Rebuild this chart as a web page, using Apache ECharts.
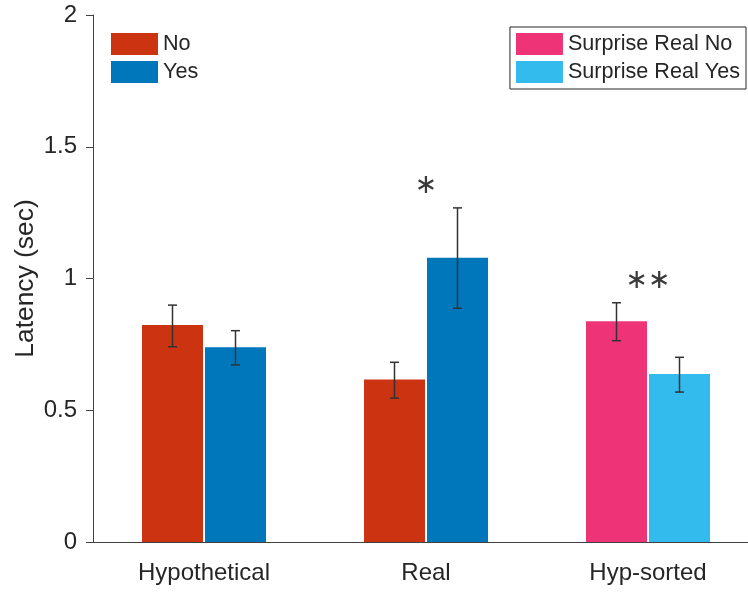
<!DOCTYPE html>
<html>
<head>
<meta charset="utf-8">
<script src="https://cdn.jsdelivr.net/npm/echarts@6/dist/echarts.min.js"></script>
<style>html,body{margin:0;padding:0;background:#fff}#c{width:748px;height:592px}</style>
</head>
<body>
<div id="c"></div>
<script>
var categories = ['Hypothetical', 'Real', 'Hyp-sorted'];
var yTicks = [0, 0.5, 1, 1.5, 2];
var noVals = [0.824, 0.617, null];
var yesVals = [0.739, 1.079, null];
var surpNoVals = [null, null, 0.838];
var surpYesVals = [null, null, 0.638];
var noErrLow = [0.741, 0.546, null];
var noErrHigh = [0.899, 0.682, null];
var yesErrLow = [0.672, 0.887, null];
var yesErrHigh = [0.802, 1.268, null];
var surpNoErrLow = [null, null, 0.764];
var surpNoErrHigh = [null, null, 0.908];
var surpYesErrLow = [null, null, 0.569];
var surpYesErrHigh = [null, null, 0.701];
var sigLabels = ['', '*', '**'];
var sigY = [null, 1.35, 0.99];

var TXT = '#262626';
var FONT = 'Liberation Sans';
var BAR_W = 61, BAR_GAP = 2;
var colors = { no: '#CC3311', yes: '#0077BB', surpNo: '#EE3377', surpYes: '#33BBEE' };

function errData(low, high, side) {
  var out = [];
  for (var i = 0; i < low.length; i++) {
    if (low[i] != null) out.push([i, low[i], high[i], side]);
  }
  return out;
}
var errItems = [].concat(
  errData(noErrLow, noErrHigh, -1),
  errData(yesErrLow, yesErrHigh, 1),
  errData(surpNoErrLow, surpNoErrHigh, -1),
  errData(surpYesErrLow, surpYesErrHigh, 1)
);
var sigItems = [];
for (var i = 0; i < sigLabels.length; i++) {
  if (sigLabels[i]) sigItems.push([i, sigY[i], sigLabels[i]]);
}

var chart = echarts.init(document.getElementById('c'), null, { renderer: 'canvas' });
chart.setOption({
  animation: false,
  textStyle: { fontFamily: FONT, color: TXT },
  grid: { left: 93, width: 666, top: 15, bottom: 50, containLabel: false, outerBoundsMode: 'none' },
  legend: [
    {
      data: ['No', 'Yes'],
      orient: 'vertical', left: 111, top: 33, padding: 0,
      icon: 'rect',
      itemWidth: 47, itemHeight: 22, itemGap: 6, itemStyle: { borderWidth: 0 },
      textStyle: { fontFamily: FONT, fontSize: 21.6, color: TXT },
      selectedMode: false
    },
    {
      data: ['Surprise Real No', 'Surprise Real Yes'],
      orient: 'vertical', right: 2, top: 27, padding: [6, 6, 6, 6],
      icon: 'rect',
      borderColor: TXT, borderWidth: 1, backgroundColor: '#fff', borderRadius: 0,
      itemWidth: 47, itemHeight: 22, itemGap: 6, itemStyle: { borderWidth: 0 },
      textStyle: { fontFamily: FONT, fontSize: 21.6, color: TXT },
      selectedMode: false
    }
  ],
  xAxis: {
    type: 'category',
    data: categories,
    axisLine: { lineStyle: { color: '#404040', width: 1 } },
    axisTick: { alignWithLabel: true, length: 7, lineStyle: { color: '#404040' } },
    axisLabel: { fontFamily: FONT, fontSize: 24, color: TXT, margin: 19 },
    splitLine: { show: false }
  },
  yAxis: {
    type: 'value',
    min: yTicks[0], max: yTicks[yTicks.length - 1], interval: 0.5,
    name: 'Latency (sec)', nameLocation: 'middle', nameGap: 54, nameMoveOverlap: false,
    nameTextStyle: { fontFamily: FONT, fontSize: 26.4, color: TXT },
    axisLine: { show: true, lineStyle: { color: '#404040', width: 1 } },
    axisTick: { show: true, length: 7, lineStyle: { color: '#404040' } },
    axisLabel: { fontFamily: FONT, fontSize: 24, color: TXT, margin: 16 },
    splitLine: { show: false }
  },
  series: [
    { name: 'No', type: 'bar', stack: 'a', data: noVals, barWidth: BAR_W, barGap: (BAR_GAP / BAR_W * 100) + '%', itemStyle: { color: colors.no } },
    { name: 'Yes', type: 'bar', stack: 'b', data: yesVals, barWidth: BAR_W, itemStyle: { color: colors.yes } },
    { name: 'Surprise Real No', type: 'bar', stack: 'a', data: surpNoVals, barWidth: BAR_W, itemStyle: { color: colors.surpNo } },
    { name: 'Surprise Real Yes', type: 'bar', stack: 'b', data: surpYesVals, barWidth: BAR_W, itemStyle: { color: colors.surpYes } },
    {
      type: 'custom', name: 'err', data: errItems, z: 10,
      renderItem: function (params, api) {
        var off = api.value(3) * (BAR_W + BAR_GAP) / 2;
        var lo = api.coord([api.value(0), api.value(1)]);
        var hi = api.coord([api.value(0), api.value(2)]);
        var x = lo[0] + off, cw = 4.5;
        var st = { stroke: '#333', lineWidth: 1.5 };
        return { type: 'group', children: [
          { type: 'line', shape: { x1: x, y1: lo[1], x2: x, y2: hi[1] }, style: st },
          { type: 'line', shape: { x1: x - cw, y1: lo[1], x2: x + cw, y2: lo[1] }, style: st },
          { type: 'line', shape: { x1: x - cw, y1: hi[1], x2: x + cw, y2: hi[1] }, style: st }
        ] };
      }
    },
    {
      type: 'custom', name: 'sig', data: sigItems, z: 10,
      renderItem: function (params, api) {
        var p = api.coord([api.value(0), api.value(1)]);
        return { type: 'text', x: p[0], y: p[1], style: {
          text: sigLabels[api.value(0)].replace(/\*/g, '\u2217'),
          fontFamily: 'DejaVu Sans', fontSize: 27, fill: '#3a3a3a',
          align: 'center', verticalAlign: 'middle'
        } };
      }
    }
  ]
});
</script>
</body>
</html>
